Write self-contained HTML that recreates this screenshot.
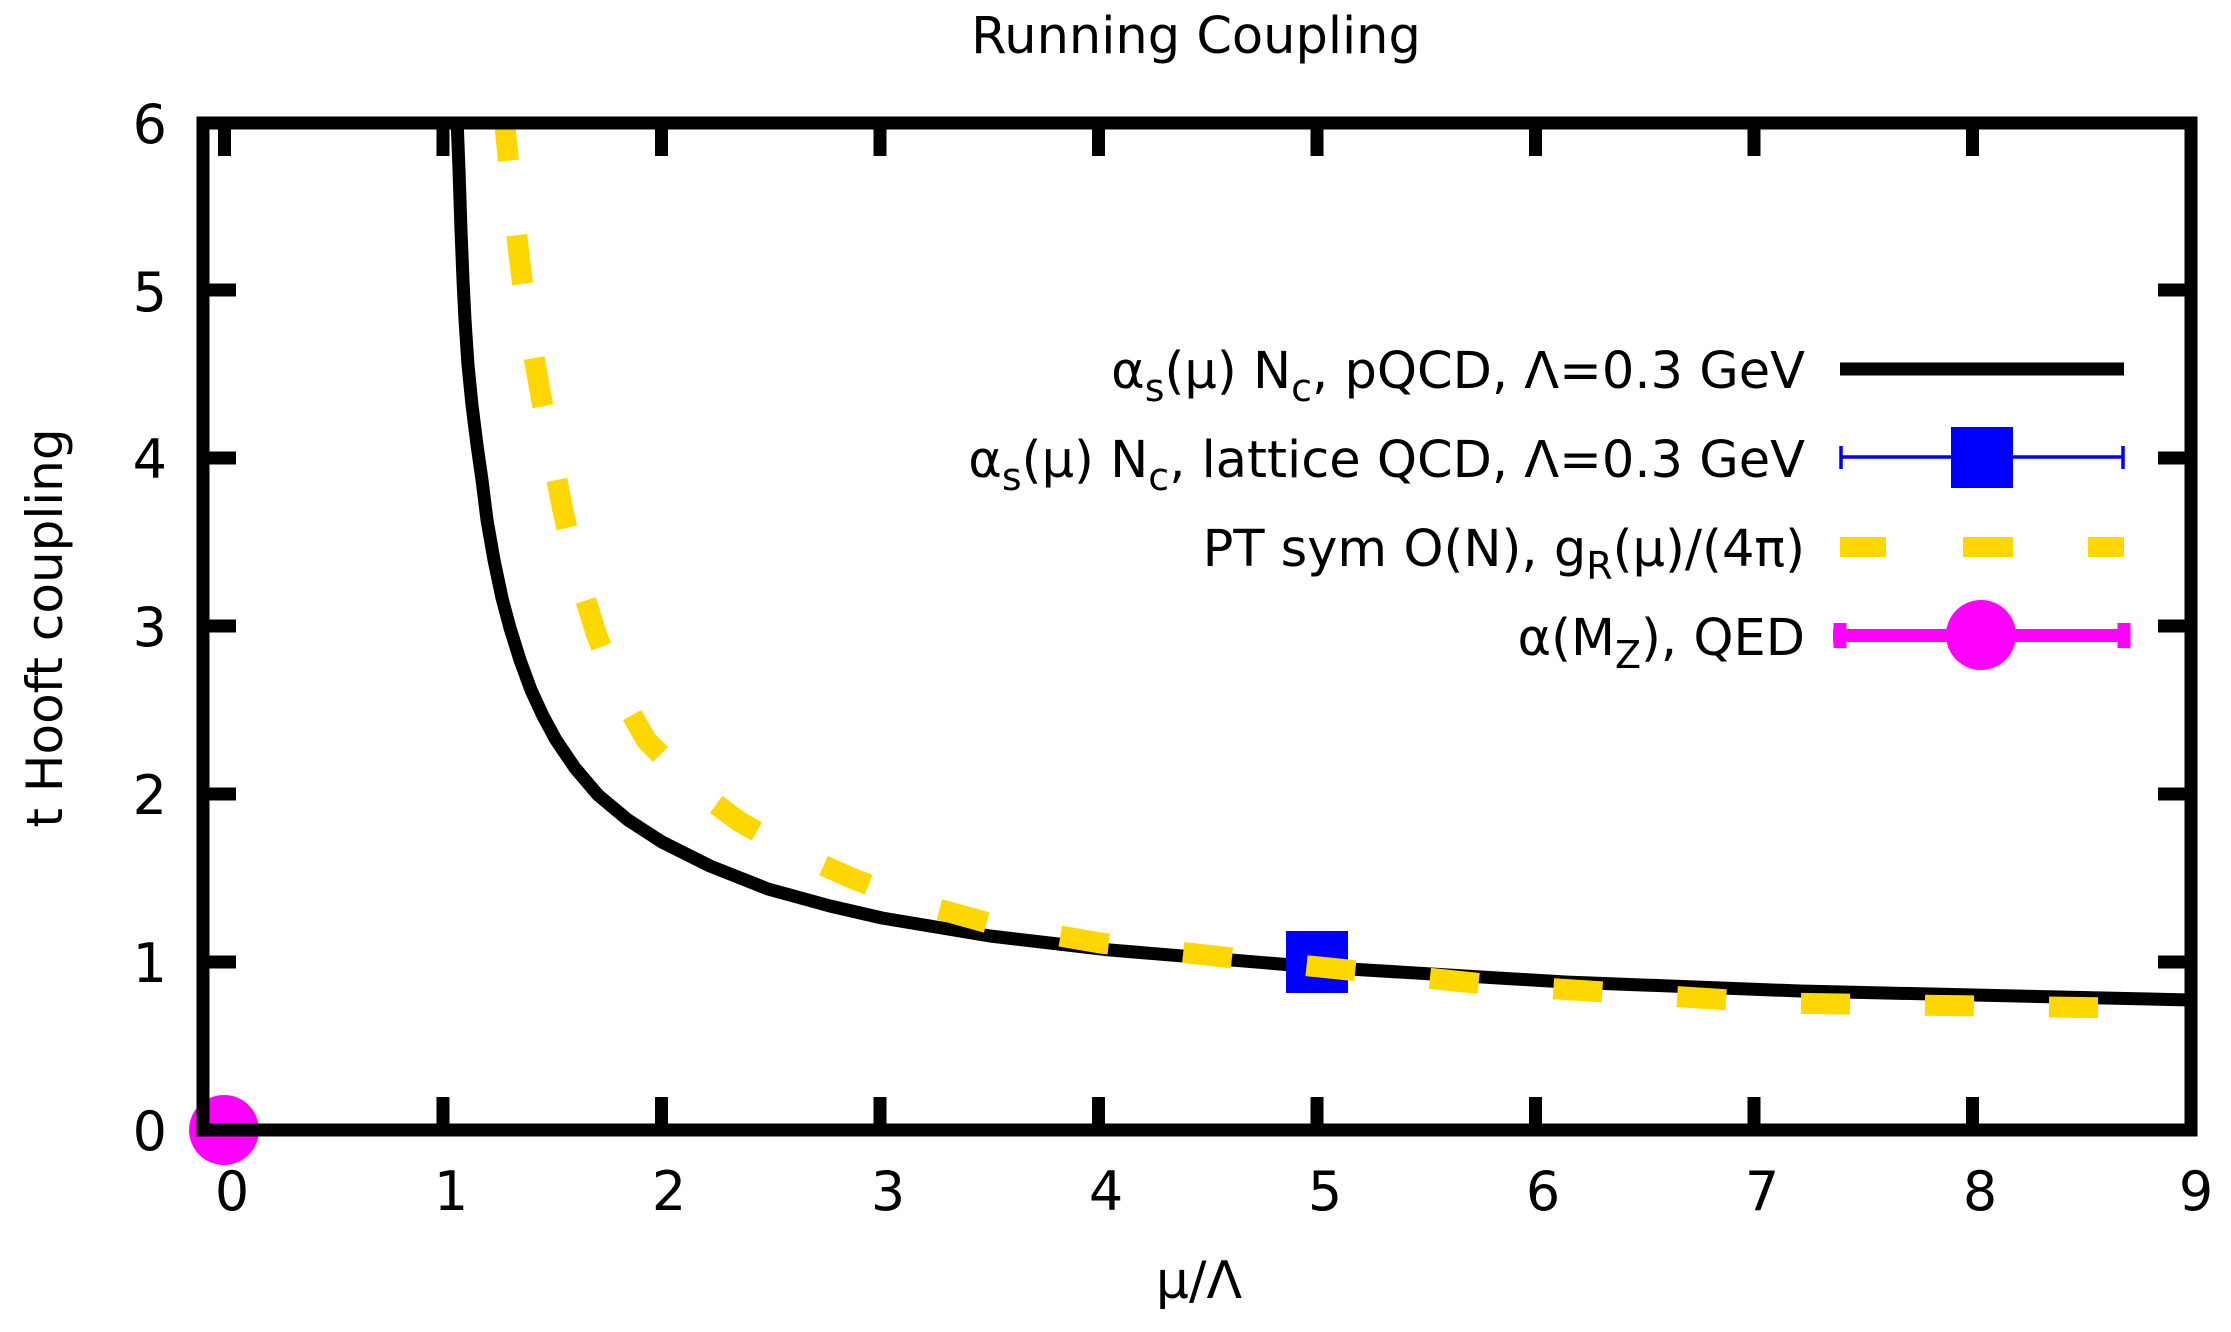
<!DOCTYPE html>
<html><head><meta charset="utf-8"><style>
html,body{margin:0;padding:0;background:#fff}
svg{display:block}
text{font-family:"DejaVu Sans","Liberation Sans",sans-serif;fill:#000}
</style></head><body>
<svg width="2231" height="1332" viewBox="0 0 2231 1332" xmlns="http://www.w3.org/2000/svg">
<defs><clipPath id="pa"><rect x="203" y="123" width="1988" height="1007"/></clipPath></defs>
<text x="1196" y="53" font-size="51" text-anchor="middle">Running Coupling</text>
<g font-size="54" text-anchor="end">
<text x="167" y="1150">0</text>
<text x="167" y="982">1</text>
<text x="167" y="814">2</text>
<text x="167" y="646">3</text>
<text x="167" y="478">4</text>
<text x="167" y="311">5</text>
<text x="167" y="143">6</text>
</g>
<g font-size="54" text-anchor="middle">
<text x="232" y="1210">0</text>
<text x="451" y="1210">1</text>
<text x="669" y="1210">2</text>
<text x="888" y="1210">3</text>
<text x="1106" y="1210">4</text>
<text x="1325" y="1210">5</text>
<text x="1543" y="1210">6</text>
<text x="1762" y="1210">7</text>
<text x="1980" y="1210">8</text>
<text x="2196" y="1210">9</text>
</g>
<text x="1199" y="1298" font-size="52" text-anchor="middle">μ/Λ</text>
<text transform="translate(62,628) rotate(-90)" font-size="50" text-anchor="middle">t Hooft coupling</text>
<g stroke="#000" stroke-width="13">
<path d="M224.5 1130V1097M443 1130V1097M661.5 1130V1097M880 1130V1097M1098.5 1130V1097M1317 1130V1097M1535.5 1130V1097M1754 1130V1097M1972.5 1130V1097"/>
<path d="M224.5 123V156M443 123V156M661.5 123V156M880 123V156M1098.5 123V156M1317 123V156M1535.5 123V156M1754 123V156M1972.5 123V156"/>
<path d="M203 962H236M203 794H236M203 626H236M203 458H236M203 290H236"/>
<path d="M2191 962H2158M2191 794H2158M2191 626H2158M2191 458H2158M2191 290H2158"/>
</g>
<g clip-path="url(#pa)">
<polyline fill="none" stroke="#000" stroke-width="13" stroke-linejoin="round" points="457,118 459,170 461,230 463,280 465,320 468,365 472,405 477,445 482,480 487,520 494,560 502,598 510,628 520,660 531,690 543,716 556,740 575,768 598,795 628,820 662,842 710,866 768,889 830,906 882,918 990,936 1110,950 1316,967 1565,982 1800,991 2191,1000"/>
<rect x="1286" y="931" width="62" height="62" fill="#0000ff"/>
<polyline fill="none" stroke="#ffd700" stroke-width="21" stroke-dasharray="49 75" points="503.5,112 512,195 521.7,277 531,340 541.3,398 552,455 563.2,512 578,575 596,633 618,690 646.2,740 690,785 740,822 795,853 853.8,879 920,904 995.8,925 1100,943 1223,957 1494,985 1778,1003 2113,1008"/>
</g>
<circle cx="224" cy="1130" r="35" fill="#ff00ff"/>
<rect x="203" y="123" width="1988" height="1007" fill="none" stroke="#000" stroke-width="13"/>
<g font-size="51" text-anchor="end">
<text x="1805" y="388">α<tspan font-size="38" dy="13">s</tspan><tspan dy="-13">(μ) N</tspan><tspan font-size="38" dy="13">c</tspan><tspan dy="-13">, pQCD, Λ=0.3 GeV</tspan></text>
<text x="1805" y="477">α<tspan font-size="38" dy="13">s</tspan><tspan dy="-13">(μ) N</tspan><tspan font-size="38" dy="13">c</tspan><tspan dy="-13">, lattice QCD, Λ=0.3 GeV</tspan></text>
<text x="1805" y="566">PT sym O(N), g<tspan font-size="38" dy="13">R</tspan><tspan dy="-13">(μ)/(4π)</tspan></text>
<text x="1805" y="655">α(M<tspan font-size="38" dy="13">Z</tspan><tspan dy="-13">), QED</tspan></text>
</g>
<line x1="1840" y1="369" x2="2124" y2="369" stroke="#000" stroke-width="13"/>
<g stroke="#0000ff" stroke-width="3.5">
<line x1="1840" y1="457" x2="2124" y2="457"/>
<line x1="1841" y1="446" x2="1841" y2="469"/>
<line x1="2123" y1="446" x2="2123" y2="469"/>
</g>
<rect x="1951" y="427" width="62" height="61" fill="#0000ff"/>
<g fill="#ffd700">
<rect x="1840" y="537" width="46" height="20"/>
<rect x="1963" y="537" width="50" height="20"/>
<rect x="2088" y="537" width="36" height="20"/>
</g>
<g stroke="#ff00ff">
<line x1="1833" y1="635.5" x2="2130" y2="635.5" stroke-width="13"/>
<line x1="1840" y1="623" x2="1840" y2="648" stroke-width="13"/>
<line x1="2124" y1="623" x2="2124" y2="648" stroke-width="13"/>
</g>
<circle cx="1981" cy="635" r="35" fill="#ff00ff"/>
</svg>
</body></html>
